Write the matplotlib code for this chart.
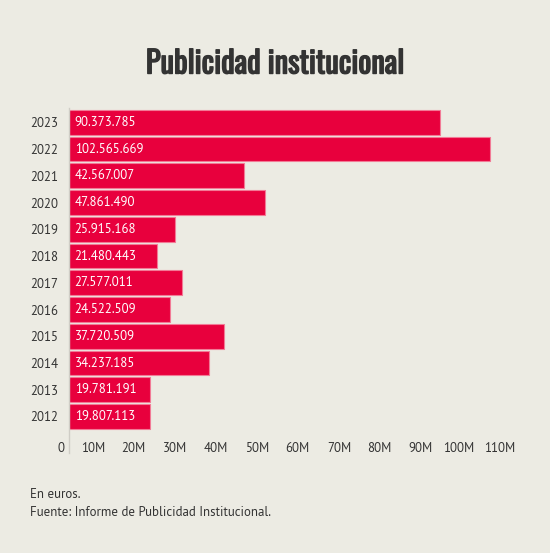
import matplotlib
matplotlib.use("Agg")
import matplotlib.pyplot as plt
from matplotlib import font_manager
import matplotlib.patheffects as pe
from matplotlib.transforms import ScaledTranslation

years = ["2023", "2022", "2021", "2020", "2019", "2018", "2017", "2016", "2015", "2014", "2013", "2012"]
values = [90373785, 102565669, 42567007, 47861490, 25915168, 21480443, 27577011, 24522509,
          37720509, 34237185, 19781191, 19807113]
labels = ["90.373.785", "102.565.669", "42.567.007", "47.861.490", "25.915.168", "21.480.443",
          "27.577.011", "24.522.509", "37.720.509", "34.237.185", "19.781.191", "19.807.113"]
xticks = [0, 10e6, 20e6, 30e6, 40e6, 50e6, 60e6, 70e6, 80e6, 90e6, 100e6, 110e6]
xticklabels = ["0", "10M", "20M", "30M", "40M", "50M", "60M", "70M", "80M", "90M", "100M", "110M"]

names = {f.name for f in font_manager.fontManager.ttflist}
body_font = "PT Sans" if "PT Sans" in names else "Lato"
title_font = "Oswald" if "Oswald" in names else "DejaVu Sans"

BG = "#ecebe3"
BAR = "#e8003d"
TXT = "#333333"
FS = 9.3

W, H = 550, 553
fig = plt.figure(figsize=(W / 100, H / 100), dpi=100, facecolor=BG)
ax = fig.add_axes([69 / W, 1 - 453 / H, (520 - 69) / W, (453 - 108) / H])
ax.set_facecolor(BG)

ypos = list(range(len(years)))
ax.barh(ypos, values, height=0.92, color=BAR, edgecolor="#f27a96", linewidth=0.8, zorder=2)
for y, v, lab in zip(ypos, values, labels):
    ax.text(1.4e6, y, lab, color="white", fontsize=FS, family=body_font, va="center", ha="left", zorder=3)

ax.set_xlim(0, 110e6)
ax.set_ylim(12.365, -0.535)
ax.set_yticks(ypos)
ax.set_yticklabels(years, fontsize=FS, family=body_font, color=TXT)
ax.tick_params(axis="y", length=0, pad=8)

ax.set_xticks(xticks)
ax.set_xticklabels(xticklabels, fontsize=FS, family=body_font, color=TXT)
ax.tick_params(axis="x", length=0, pad=-8)
offset = ScaledTranslation(-5 / 100, 0, fig.dpi_scale_trans)
for t in ax.get_xticklabels():
    t.set_ha("right")
    t.set_transform(t.get_transform() + offset)

for s in ["top", "right", "bottom"]:
    ax.spines[s].set_visible(False)
ax.spines["left"].set_color("#cfcdc6")
ax.spines["left"].set_linewidth(1)

fig.text(275 / W, 1 - 64 / H, "Publicidad institucional", fontsize=22, fontweight="bold",
         family=title_font, color=TXT, ha="center", va="center",
         path_effects=[pe.withStroke(linewidth=1.0, foreground=TXT)])
fig.text(30 / W, 1 - 494 / H, "En euros.", fontsize=FS, family=body_font, color=TXT, ha="left", va="center")
fig.text(30 / W, 1 - 512 / H, "Fuente: Informe de Publicidad Institucional.", fontsize=FS,
         family=body_font, color=TXT, ha="left", va="center")

fig.savefig("out.png", dpi=100, facecolor=BG)
